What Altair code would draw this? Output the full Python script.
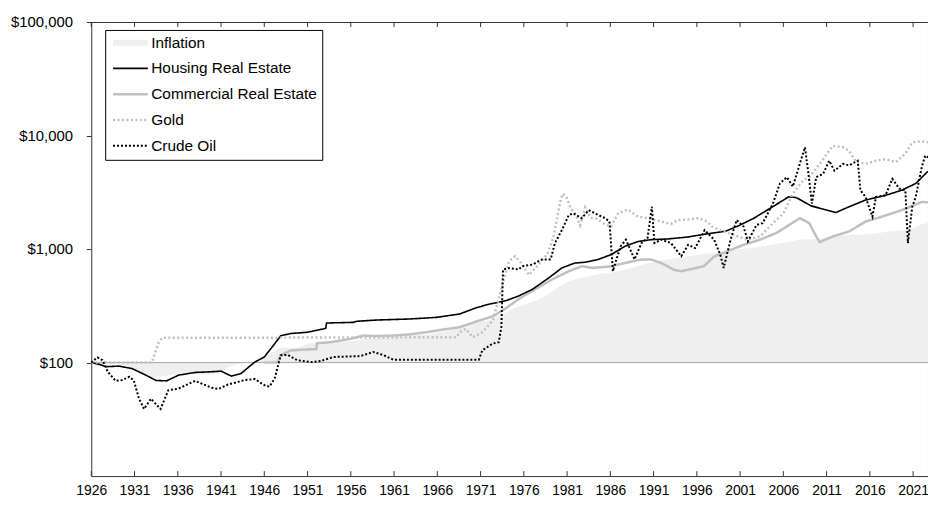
import altair as alt
import pandas as pd

# ---------------- data (index, 1926 = $100) ----------------
inflation_years = list(range(1926, 2023)) + [2022.72]
inflation_values = [
    100, 98.3, 96.6, 96.6, 94.4, 85.9, 77.4, 73.4, 75.7, 77.4,
    78.5, 81.4, 79.7, 78.5, 79.1, 83.1, 92.1, 97.7, 99.4, 101.7,
    110.2, 126, 136.2, 134.5, 136.2, 146.9, 149.7, 150.8, 152, 151.4,
    153.7, 158.8, 163.3, 164.4, 167.2, 168.9, 170.6, 172.9, 175.1, 178,
    183.1, 188.7, 196.6, 207.3, 219.2, 228.8, 236.2, 250.8, 278.5, 304,
    321.5, 342.4, 368.4, 410.2, 465.5, 513.6, 545.2, 562.7, 587, 607.9,
    619.2, 641.8, 668.4, 700.6, 738.4, 769.5, 792.7, 816.4, 837.3, 861,
    886.4, 906.8, 920.9, 941.2, 972.9, 1000.6, 1016.4, 1039.5, 1067.2, 1103.4,
    1139, 1171.2, 1216.4, 1211.9, 1232.2, 1270.6, 1297.2, 1316.4, 1337.3, 1339,
    1355.9, 1384.7, 1418.6, 1444.6, 1462.1, 1531.1, 1653.7, 1700,
]

housing_years = [
    1926.0, 1927.0, 1927.7, 1929.2, 1930.7, 1932.3, 1933.5, 1934.7, 1936.1, 1938.0,
    1939.9, 1941.0, 1942.2, 1943.3, 1944.9, 1946.0, 1947.0, 1947.9, 1949.0, 1951.0,
    1953.1, 1953.2, 1956.3, 1956.7, 1959.0, 1962.8, 1965.9, 1968.6, 1970.5, 1972.0,
    1973.9, 1975.4, 1977.0, 1978.9, 1980.4, 1981.9, 1983.1, 1984.6, 1986.1, 1987.7,
    1989.2, 1990.7, 1992.6, 1994.9, 1997.2, 1999.3, 2000.8, 2002.6, 2004.5, 2006.6,
    2007.5, 2009.2, 2010.6, 2012.1, 2013.6, 2015.5, 2017.8, 2019.7, 2021.3, 2022.72,
]
housing_values = [
    100, 96, 92, 93, 88.6, 77.5, 69.5, 69, 77.5, 81.8,
    83, 84, 76, 80, 101, 112, 140, 172, 180, 185,
    200, 223, 226, 231, 237, 242, 250, 268, 304, 327,
    350, 386, 442, 558, 682, 753, 765, 810, 894, 1057,
    1166, 1209, 1226, 1275, 1361, 1435, 1600, 1870, 2290, 2880,
    2840, 2400, 2250, 2100, 2360, 2700, 2970, 3300, 3780, 4850,
]

commercial_years = [
    1946.0, 1947.5, 1947.9, 1949.1, 1951.4, 1952.0, 1952.1, 1953.6, 1956.0, 1957.5,
    1959.0, 1960.9, 1962.8, 1964.7, 1966.6, 1968.6, 1970.5, 1972.4, 1973.9, 1975.4,
    1977.3, 1979.3, 1981.2, 1982.7, 1983.9, 1985.8, 1987.7, 1989.6, 1990.7, 1991.9,
    1993.4, 1994.2, 1995.7, 1996.8, 1998.0, 1999.5, 2001.4, 2003.3, 2005.2, 2007.1,
    2007.9, 2009.0, 2009.8, 2010.2, 2011.7, 2013.6, 2015.5, 2017.4, 2019.7, 2022.0,
    2022.72,
]
commercial_values = [
    100, 100, 116, 128, 131, 131, 148, 151, 162, 173,
    171, 173, 177, 185, 195, 205, 230, 255, 300, 362,
    442, 541, 638, 706, 682, 700, 753, 810, 810, 753,
    654, 638, 675, 706, 860, 953, 1090, 1209, 1385, 1710,
    1870, 1690, 1290, 1150, 1290, 1429, 1746, 1930, 2200, 2600,
    2580,
]

gold_years = [
    1926.0, 1933.0, 1933.5, 1933.8, 1934.2, 1968.2, 1968.6, 1969.3, 1970.1, 1971.2,
    1972.4, 1972.8, 1973.5, 1974.3, 1975.0, 1975.7, 1976.6, 1977.5, 1978.7, 1979.4,
    1979.8, 1980.2, 1980.5, 1980.9, 1981.4, 1982.0, 1982.5, 1983.1, 1983.7, 1984.4,
    1985.4, 1986.1, 1986.9, 1988.0, 1989.2, 1990.3, 1991.9, 1993.0, 1993.8, 1995.3,
    1996.2, 1997.2, 1997.7, 1998.7, 2000.2, 2001.8, 2003.3, 2004.8, 2006.0, 2007.1,
    2008.3, 2009.0, 2010.2, 2011.7, 2012.9, 2013.6, 2014.4, 2015.5, 2016.7, 2017.8,
    2019.0, 2020.1, 2020.9, 2022.0, 2022.72,
]
gold_values = [
    100, 100, 130, 151, 165, 167, 185, 198, 167, 185,
    234, 300, 480, 781, 864, 753, 590, 700, 900, 1250,
    1800, 2600, 3070, 2900, 2300, 2000, 1620, 2330, 1880, 1850,
    1650, 1580, 2060, 2230, 1930, 1870, 1746, 1660, 1800, 1830,
    1870, 1746, 1580, 1470, 1335, 1209, 1290, 1690, 2060, 3070,
    4030, 4300, 5630, 8100, 7880, 7350, 5840, 5630, 6000, 6200,
    5840, 6930, 8700, 8900, 8700,
]

oil_years = [
    1926.0, 1926.7, 1927.3, 1927.9, 1928.8, 1929.6, 1930.4, 1930.9, 1931.5, 1932.1,
    1932.9, 1934.0, 1934.9, 1936.1, 1938.0, 1939.9, 1940.7, 1941.8, 1943.7, 1944.9,
    1946.0, 1946.6, 1947.2, 1947.9, 1948.7, 1949.8, 1951.4, 1952.5, 1954.0, 1957.1,
    1958.6, 1959.8, 1960.9, 1970.8, 1971.2, 1972.4, 1973.1, 1973.4, 1973.6, 1974.3,
    1975.4, 1975.8, 1977.0, 1978.1, 1979.1, 1979.6, 1980.4, 1981.2, 1981.7, 1982.7,
    1983.5, 1984.6, 1985.4, 1985.9, 1986.3, 1986.7, 1987.2, 1987.8, 1988.8, 1989.6,
    1990.3, 1990.8, 1991.1, 1991.9, 1993.0, 1994.2, 1995.0, 1995.8, 1996.9, 1998.0,
    1998.7, 1999.1, 1999.9, 2000.6, 2001.4, 2001.9, 2002.9, 2003.6, 2004.8, 2005.6,
    2006.4, 2007.1, 2007.9, 2008.5, 2008.9, 2009.3, 2009.8, 2010.6, 2011.3, 2011.9,
    2012.9, 2013.6, 2014.6, 2014.9, 2015.5, 2016.3, 2016.7, 2017.8, 2018.6, 2019.4,
    2020.1, 2020.4, 2020.9, 2021.3, 2022.0, 2022.4, 2022.72,
]
oil_values = [
    100, 111, 105, 83, 69, 70, 75, 70, 48.5, 39,
    48, 39, 57, 59, 69, 60, 58.5, 64, 70, 71.5,
    63.3, 61.3, 72.5, 116, 117, 105, 101, 103, 112, 114,
    124, 116, 106, 106, 128, 147, 151, 205, 660, 680,
    660, 706, 730, 810, 810, 1130, 1470, 1995, 2060, 1870,
    2200, 1995, 1870, 1746, 638, 810, 1057, 1209, 810, 1130,
    1250, 2360, 1130, 1209, 1130, 864, 1090, 1020, 1470, 1209,
    894, 682, 1209, 1800, 1580, 1170, 1630, 1690, 2520, 3780,
    4300, 3550, 5630, 7880, 4600, 2520, 4300, 4600, 6000, 4900,
    5630, 5460, 6000, 3300, 2880, 1930, 2880, 2970, 4150, 3400,
    3300, 1130, 2360, 2880, 5290, 6650, 6400,
]

tick_years = list(range(1926, 2022, 5))
y_ticks = [100, 1000, 10000, 100000]

SERIES = ["Inflation", "Housing Real Estate", "Commercial Real Estate", "Gold", "Crude Oil"]
COLORS = ["#efefef", "#000000", "#c0c0c0", "#c0c0c0", "#000000"]
DASHES = [[1, 0], [1, 0], [1, 0], [2, 2.5], [2, 2]]
WIDTHS = [6, 1.6, 2.5, 2.5, 2]


def frame(name, years, values):
    return pd.DataFrame({"year": years, "value": values, "series": name})


inf_df = frame("Inflation", inflation_years, inflation_values)
house_df = frame("Housing Real Estate", housing_years, housing_values)
comm_df = frame("Commercial Real Estate", commercial_years, commercial_values)
gold_df = frame("Gold", gold_years, gold_values)
oil_df = frame("Crude Oil", oil_years, oil_values)
ticks_df = pd.DataFrame({"year": tick_years})
base_df = pd.DataFrame({"value": [100]})

W, H = 844, 458

x_enc = alt.X(
    "year:Q",
    scale=alt.Scale(domain=[1926, 2022.72], nice=False, zero=False),
    axis=alt.Axis(
        values=tick_years, format="d", ticks=False, domain=False, grid=False,
        labelFont="Liberation Sans Narrow, Arial Narrow, Liberation Sans, Arial, sans-serif",
        labelFontSize=14, labelColor="#000000", labelPadding=8, labelOverlap=False,
        labelFlush=False, title=None,
    ),
)
y_enc = alt.Y(
    "value:Q",
    scale=alt.Scale(type="log", domain=[10, 100000], nice=False),
    axis=alt.Axis(
        values=y_ticks, format="$,.0f", tickSize=5, tickColor="#333333", domain=False,
        grid=False, labelFont="Liberation Sans, Arial, sans-serif", labelFontSize=15,
        labelColor="#000000", labelPadding=14, title=None,
    ),
)


def make_legend():
    return alt.Legend(
        title=None, orient="none", legendX=14, legendY=8,
        strokeColor="#000000", fillColor="#ffffff", padding=5,
        labelFont="Liberation Sans, Arial, sans-serif", labelFontSize=15.5, labelColor="#000000",
        labelLimit=400,
        symbolType="M-3.5,0H3.5", symbolSize=100, symbolOffset=12.5, labelOffset=13,
        rowPadding=6, gridAlign="all",
    )


color_enc = alt.Color("series:N", scale=alt.Scale(domain=SERIES, range=COLORS), legend=make_legend())
dash_enc = alt.StrokeDash("series:N", scale=alt.Scale(domain=SERIES, range=DASHES), legend=make_legend())
width_enc = alt.StrokeWidth(
    "series:N", scale=alt.Scale(type="ordinal", domain=SERIES, range=WIDTHS), legend=make_legend()
)

area = alt.Chart(inf_df).mark_area(color="#efefef").encode(x=x_enc, y=y_enc, y2=alt.datum(100))
base_rule = alt.Chart(base_df).mark_rule(color="#a6a6a6", strokeWidth=1).encode(y="value:Q")


def line_layer(df):
    return alt.Chart(df).mark_line().encode(
        x=x_enc, y=y_enc, color=color_enc, strokeDash=dash_enc, strokeWidth=width_enc
    )


comm = line_layer(comm_df)
house = line_layer(house_df)
gold = line_layer(gold_df)
oil = line_layer(oil_df)

bottom_ticks = alt.Chart(ticks_df).mark_rule(color="#333333").encode(
    x="year:Q", y=alt.value(H), y2=alt.value(H - 5)
)
top_ticks = alt.Chart(ticks_df).mark_rule(color="#333333").encode(
    x="year:Q", y=alt.value(0), y2=alt.value(5)
)

chart = (
    alt.layer(area, base_rule, comm, house, gold, oil, bottom_ticks, top_ticks)
    .properties(
        width=W, height=H,
        autosize=alt.AutoSizeParams(type="none"),
        padding={"left": 84, "top": 12, "right": 0, "bottom": 22},
        background="#ffffff",
    )
    .configure_view(stroke="#333333", strokeWidth=1)
)

chart.save("out.html", embed_options={"renderer": "svg", "actions": False})
